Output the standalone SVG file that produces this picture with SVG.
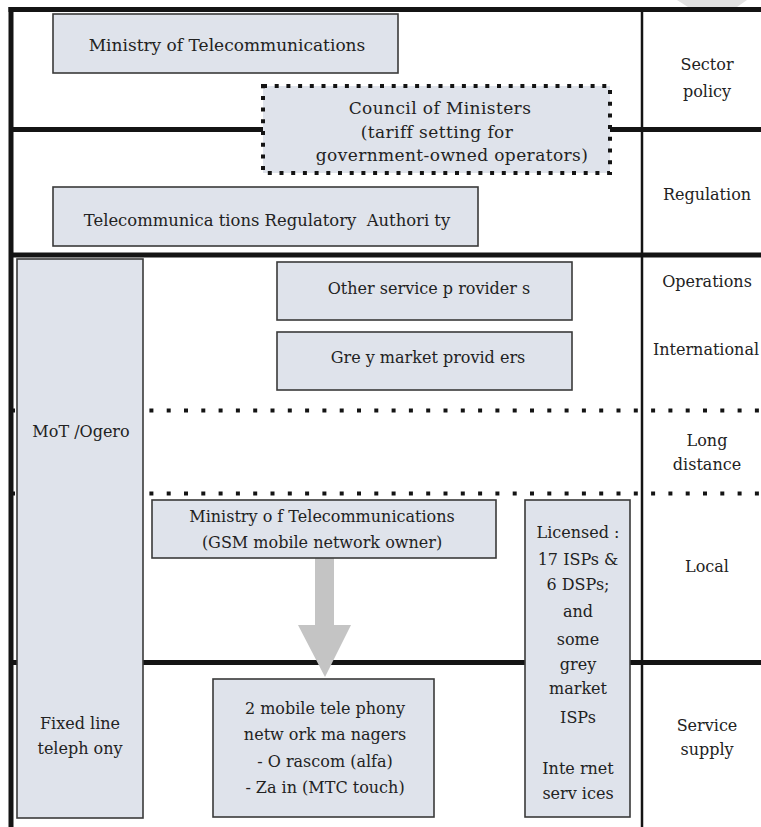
<svg xmlns="http://www.w3.org/2000/svg" width="761" height="827" viewBox="0 0 761 827">
<style>
.box{fill:#dfe3eb;stroke:#3a3a3a;stroke-width:1.6}
.thick{stroke:#141414;stroke-width:5;fill:none}
.dots{stroke:#141414;stroke-width:4;stroke-dasharray:4 13.3;fill:none}
text{font-family:"DejaVu Serif","Liberation Serif",serif;font-size:16px;fill:#222;text-anchor:middle}
.big{font-size:17px;letter-spacing:0.4px}
</style>
<rect width="761" height="827" fill="#ffffff"/>
<polygon points="677,0 747,0 737,7 688,7" fill="#e2e2e2"/>
<g id="connectors">
<line class="thick" x1="8.5" y1="9.5" x2="761" y2="9.5"/>
<line class="thick" x1="11" y1="7" x2="11" y2="827"/>
<line x1="642" y1="9" x2="642" y2="827" stroke="#141414" stroke-width="2.5"/>
<line class="thick" x1="11" y1="129.5" x2="263" y2="129.5" stroke-width="4.5"/>
<line class="thick" x1="610" y1="129.5" x2="761" y2="129.5" stroke-width="4.5"/>
<line class="thick" x1="11" y1="255" x2="761" y2="255"/>
<line class="dots" x1="11" y1="410.5" x2="761" y2="410.5"/>
<line class="dots" x1="11" y1="493.5" x2="761" y2="493.5"/>
<line class="thick" x1="11" y1="662.5" x2="761" y2="662.5" stroke-width="5.5"/>
<polygon id="arrow" points="315,558 334,558 334,625 351,625 325,677 298,625 315,625" fill="#c4c4c4"/>
</g>
<g id="ministry-top">
<rect class="box" x="53" y="14" width="345" height="59"/>
<text x="227" y="51" style="font-size:17px">Ministry of Telecommunications</text>
</g>
<g id="council">
<rect x="263" y="86" width="347" height="87" fill="#dfe3eb" stroke="#141414" stroke-width="4" stroke-dasharray="4 7.7"/>
<text class="big" x="440" y="114">Council of Ministers</text>
<text class="big" x="437" y="138">(tariff setting for</text>
<text class="big" x="452" y="161">government-owned operators)</text>
</g>
<g id="tra">
<rect class="box" x="53" y="187" width="425" height="59"/>
<text x="267" y="226" style="font-size:16.4px" xml:space="preserve">Telecommunica tions Regulatory  Authori ty</text>
</g>
<g id="mot-ogero">
<rect class="box" x="17" y="259" width="126" height="559"/>
<text x="81" y="437">MoT /Ogero</text>
<text x="80" y="729">Fixed line</text>
<text x="80" y="754">teleph ony</text>
</g>
<g id="other-providers">
<rect class="box" x="277" y="262" width="295" height="58"/>
<text x="429" y="294">Other service p rovider s</text>
</g>
<g id="grey-market">
<rect class="box" x="277" y="332" width="295" height="58"/>
<text x="428" y="363">Gre y market provid ers</text>
</g>
<g id="ministry-gsm">
<rect class="box" x="152" y="500" width="344" height="58"/>
<text x="322" y="522">Ministry o f Telecommunications</text>
<text x="322" y="548">(GSM mobile network owner)</text>
</g>
<g id="mobile-managers">
<rect class="box" x="213" y="679" width="221" height="138"/>
<text x="325" y="714">2 mobile tele phony</text>
<text x="325" y="740">netw ork ma nagers</text>
<text x="325" y="767">- O rascom (alfa)</text>
<text x="325" y="793">- Za in (MTC touch)</text>
</g>
<g id="internet">
<rect class="box" x="525" y="500" width="105" height="317"/>
<text x="578" y="538">Licensed :</text>
<text x="578" y="565">17 ISPs &amp;</text>
<text x="578" y="590">6 DSPs;</text>
<text x="578" y="617">and</text>
<text x="578" y="645">some</text>
<text x="578" y="670">grey</text>
<text x="578" y="694">market</text>
<text x="578" y="723">ISPs</text>
<text x="578" y="774">Inte rnet</text>
<text x="578" y="799">serv ices</text>
</g>
<g id="labels">
<text x="707" y="70">Sector</text>
<text x="707" y="97">policy</text>
<text x="707" y="200">Regulation</text>
<text x="707" y="287">Operations</text>
<text x="706" y="355">International</text>
<text x="707" y="446">Long</text>
<text x="707" y="470">distance</text>
<text x="707" y="572">Local</text>
<text x="707" y="731">Service</text>
<text x="707" y="755">supply</text>
</g>
</svg>
